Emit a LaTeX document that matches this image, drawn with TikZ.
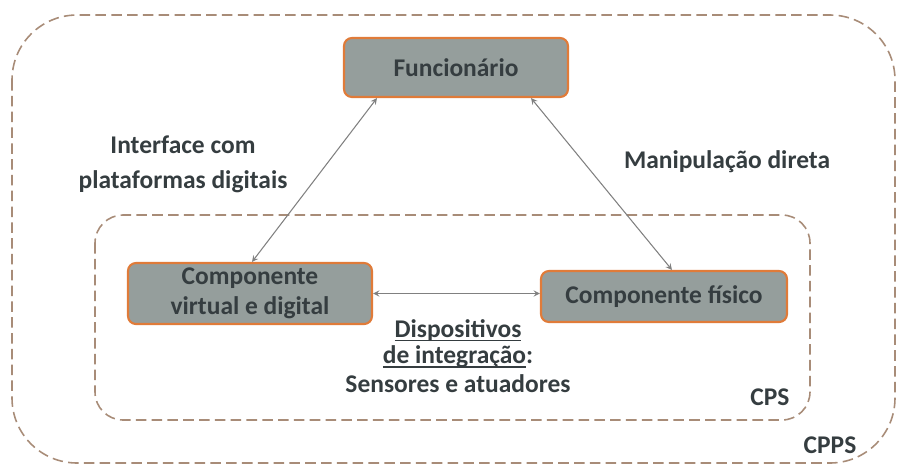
\documentclass[tikz,border=0pt]{standalone}
\usepackage{fontspec}
\setmainfont{Carlito}
\usetikzlibrary{arrows}
\definecolor{boxgray}{HTML}{959E9C}
\definecolor{boxedge}{HTML}{E07B39}
\definecolor{txtdark}{HTML}{353D40}
\definecolor{dashline}{HTML}{A88C78}
\definecolor{arrowgray}{HTML}{808080}
\newcommand\ulin[1]{\setbox0\hbox{#1}\rlap{\rule[-2pt]{\wd0}{0.6pt}}\box0}
\begin{document}
\begin{tikzpicture}[>=stealth,x=0.02cm,y=-0.02cm,font=\bfseries\fontsize{14.5}{17}\selectfont]
    \useasboundingbox (0,0) rectangle (900,468);

    % ============================
    % Dashed frames: CPPS and CPS
    % ============================

    \tikzstyle{frame}=[draw=dashline,line width=0.9pt,dash pattern=on 6pt off 3pt]

    \draw[frame,rounded corners=37pt] (12,15) rectangle (895,463);
    \draw[frame,rounded corners=16pt] (95,215) rectangle (810,420);

    \node[text=txtdark] (cps) at (770,397) {CPS};
    \node[text=txtdark] (cpps) at (830,445) {CPPS};

    % ============================
    % Components
    % ============================

    \tikzstyle{comp}=[rectangle,rounded corners=4.5pt,draw=boxedge,line width=1.2pt,
                      fill=boxgray,text=txtdark,align=center,inner sep=0pt]

    \node[comp,minimum width=224*0.02cm,minimum height=59*0.02cm] (func) at (456,67.5) {Funcionário};
    \node[comp,minimum width=244*0.02cm,minimum height=61*0.02cm] (virt) at (250,293.5)
            {Componente\\virtual e digital};
    \node[comp,minimum width=246*0.02cm,minimum height=51*0.02cm] (fis) at (664,296.5)
            {Componente físico};

    % Connectors
    \tikzstyle{link}=[<->,draw=arrowgray,line width=0.6pt]

    \draw[link] ([xshift=-79*0.02cm]func.south) -- ([xshift=2*0.02cm]virt.north);
    \draw[link] ([xshift=75*0.02cm]func.south) -- ([xshift=8*0.02cm]fis.north);
    \draw[link] (virt.east) -- (virt.east -| fis.west);

    % ============================
    % Labels
    % ============================

    \node[text=txtdark,align=center] (iface) at (183,164)
            {Interface com\\[3pt]plataformas digitais};
    \node[text=txtdark] (manip) at (727,162) {Manipulação direta};
    \node[text=txtdark,align=center] (disp) at (458,356)
            {\ulin{Dispositivos}\\[-2pt]\ulin{de integração}:\\[-1pt]Sensores e atuadores};
\end{tikzpicture}
\end{document}
